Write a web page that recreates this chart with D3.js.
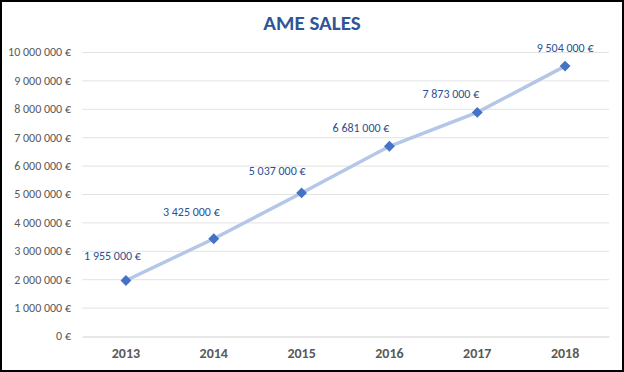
<!DOCTYPE html>
<html>
<head>
<meta charset="utf-8">
<script src="https://cdn.jsdelivr.net/npm/d3@7"></script>
<style>
    body { margin: 0; background: #fff; }
    svg { display: block; font-family: Carlito, Calibri, "Open Sans", sans-serif; }
</style>
</head>
<body>
<div id="chart"></div>
<script>
// chart data
var years = ['2013', '2014', '2015', '2016', '2017', '2018'];
var sales = [1955000, 3425000, 5037000, 6681000, 7873000, 9504000];
var yTicks = [0, 1000000, 2000000, 3000000, 4000000, 5000000, 6000000, 7000000, 8000000, 9000000, 10000000];

var width = 624,
    height = 372;

var margin = { top: 52, right: 15, bottom: 36, left: 82 };

// label placement, like Excel nudges them off the line
var labelDx = [15, 6, 4, 0, 2, 0];
var labelDy = [-20, -23, -18, -14, -14, -14];

var svg = d3
    .select('#chart')
    .append('svg')
    .attr('width', width)
    .attr('height', height);

// outer frame
svg.append('rect')
    .attr('x', 1)
    .attr('y', 1)
    .attr('width', width - 2)
    .attr('height', height - 2)
    .attr('fill', '#fff')
    .attr('stroke', '#000')
    .attr('stroke-width', 2);

var x = d3
    .scaleBand()
    .domain(years)
    .range([margin.left, width - margin.right]);

var y = d3
    .scaleLinear()
    .domain([0, 10000000])
    .range([height - margin.bottom, margin.top]);

var fmt = function (v) {
    return d3.format(',')(v).replace(/,/g, ' ') + ' €';
};

// title
svg.append('text')
    .attr('x', width / 2)
    .attr('y', 30)
    .attr('text-anchor', 'middle')
    .attr('font-size', 21)
    .attr('font-weight', 'bold')
    .attr('fill', '#2f5597')
    .text('AME SALES');

// gridlines
svg.append('g')
    .selectAll('line')
    .data(yTicks.slice(1))
    .enter()
    .append('line')
    .attr('x1', margin.left)
    .attr('x2', width - margin.right)
    .attr('y1', function (d) { return y(d) + 0.5; })
    .attr('y2', function (d) { return y(d) + 0.5; })
    .attr('stroke', '#e3e3e3')
    .attr('stroke-width', 1);

// y axis labels
var yAxis = d3.axisLeft(y).tickValues(yTicks).tickSize(0).tickPadding(11).tickFormat(fmt);
var gy = svg.append('g')
    .attr('transform', 'translate(' + margin.left + ',0)')
    .call(yAxis);
gy.select('.domain').remove();
gy.selectAll('text')
    .attr('font-size', 12)
    .attr('fill', '#595959')
    .style('font-family', 'Carlito, Calibri, "Open Sans", sans-serif');

// x axis
var xAxis = d3.axisBottom(x).tickSize(0).tickPadding(12);
var gx = svg.append('g')
    .attr('transform', 'translate(0,' + (y(0) + 0.5) + ')')
    .call(xAxis);
gx.select('.domain').attr('stroke', '#d0d0d0');
gx.selectAll('text')
    .attr('font-size', 14)
    .attr('font-weight', 'bold')
    .attr('fill', '#595959')
    .style('font-family', 'Carlito, Calibri, "Open Sans", sans-serif');

var cx = function (d, i) { return x(years[i]) + x.bandwidth() / 2; };

// line
var line = d3.line()
    .x(function (d, i) { return cx(d, i); })
    .y(function (d) { return y(d); });

svg.append('path')
    .datum(sales)
    .attr('d', line)
    .attr('fill', 'none')
    .attr('stroke', '#b4c7e7')
    .attr('stroke-width', 3.5)
    .attr('stroke-linecap', 'round');

// markers
svg.append('g')
    .selectAll('path')
    .data(sales)
    .enter()
    .append('path')
    .attr('d', d3.symbol().type(d3.symbolDiamond2).size(75))
    .attr('transform', function (d, i) {
        return 'translate(' + cx(d, i) + ',' + y(d) + ')';
    })
    .attr('fill', '#4472c4');

// data labels
svg.append('g')
    .selectAll('text')
    .data(sales)
    .enter()
    .append('text')
    .attr('x', function (d, i) { return cx(d, i) + labelDx[i]; })
    .attr('y', function (d, i) { return y(d) + labelDy[i]; })
    .attr('text-anchor', function (d, i) {
        return i === sales.length - 1 ? 'middle' : 'end';
    })
    .attr('font-size', 12)
    .attr('fill', '#2e4f91')
    .text(fmt);
</script>
</body>
</html>
